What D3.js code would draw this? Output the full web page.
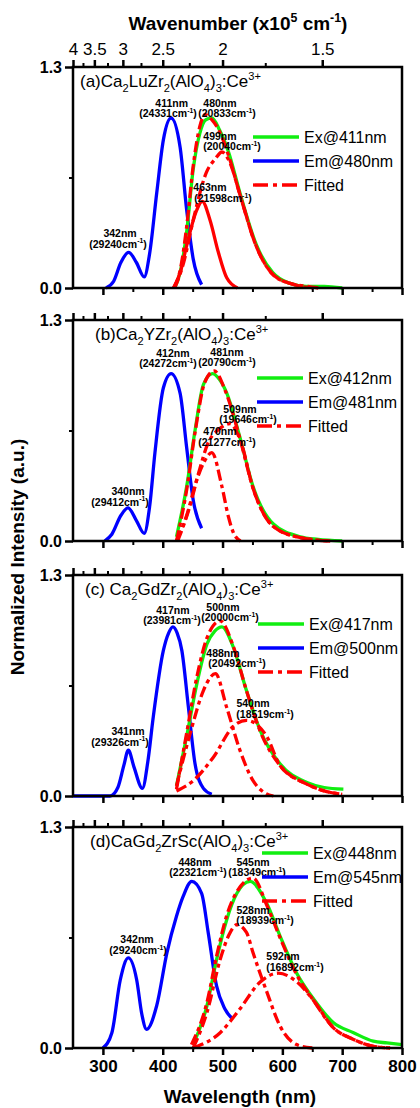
<!DOCTYPE html>
<html>
<head>
<meta charset="utf-8">
<script src="https://cdnjs.cloudflare.com/ajax/libs/d3/7.8.5/d3.min.js"></script>
<style>
  body { margin: 0; background: #fff; }
  text { font-family: "Liberation Sans", Arial, sans-serif; }
</style>
</head>
<body>
<svg width="420" height="1108"></svg>
<script>
// tick values
var wavelengthMajor = [300, 400, 500, 600, 700, 800];
var wavelengthMinor = [350, 450, 550, 650, 750];
var wavenumberMajor = [4, 3.5, 3, 2.5, 2, 1.5];
var wavenumberMinor = [3.75, 3.25, 2.75, 2.25, 1.75];
var intensityMajor = [0, 1.3];
var intensityMinor = [0.65];

// (a) Ca2LuZr2(AlO4)3:Ce3+   [nm, intensity]
var excA = [[305,0],[318,0.04],[330,0.15],[343,0.21],[356,0.15],[369,0.065],[378,0.2],[390,0.56],[401,0.87],[414,1.0],[429,0.83],[440,0.46],[451,0.17],[465,0.02]];
var emiA = [[420,0],[429,0.09],[440,0.33],[451,0.70],[462,0.91],[472,0.99],[482,1.0],[495,0.93],[510,0.80],[529,0.56],[557,0.25],[584,0.09],[610,0.03],[640,0.01],[670,0.01],[700,0]];
var fitA = [[418,0],[430,0.12],[440,0.36],[451,0.72],[462,0.95],[471,1.02],[482,0.99],[495,0.92],[510,0.78],[529,0.55],[557,0.24],[584,0.08],[610,0.03],[640,0.01],[660,0]];
var fitA1 = [[418,0],[430,0.10],[440,0.25],[457,0.46],[466,0.51],[479,0.40],[493,0.21],[507,0.06],[525,0]];
var fitA2 = [[420,0],[435,0.15],[451,0.40],[473,0.68],[488,0.76],[499,0.80],[512,0.74],[529,0.55],[557,0.24],[584,0.08],[620,0.02],[650,0]];

// (b) Ca2YZr2(AlO4)3:Ce3+
var excB = [[303,0],[315,0.04],[330,0.15],[342,0.195],[356,0.12],[369,0.045],[378,0.2],[387,0.52],[401,0.90],[414,0.985],[429,0.87],[440,0.55],[451,0.24],[465,0.075]];
var emiB = [[423,0.025],[440,0.32],[454,0.65],[468,0.92],[483,0.985],[495,0.95],[507,0.87],[529,0.61],[551,0.32],[585,0.10],[630,0.025],[660,0.01],[700,0]];
var fitB = [[423,0],[440,0.30],[455,0.66],[470,0.93],[486,1.0],[505,0.88],[530,0.59],[551,0.31],[585,0.085],[630,0.02],[680,0]];
var fitB1 = [[423,0],[440,0.15],[457,0.36],[470,0.47],[482,0.52],[499,0.32],[510,0.14],[518,0.05],[530,0]];
var fitB2 = [[425,0],[445,0.20],[460,0.40],[475,0.57],[495,0.66],[512,0.69],[530,0.59],[551,0.31],[585,0.085],[630,0.02],[680,0]];

// (c) Ca2GdZr2(AlO4)3:Ce3+
var excC = [[250,0],[312,0],[325,0.05],[335,0.18],[342.5,0.27],[352,0.17],[366,0.045],[375,0.2],[384,0.46],[401,0.855],[410,0.96],[417,0.995],[424,0.96],[432,0.855],[443,0.52],[454,0.19],[468,0.045],[482,0.01]];
var emiC = [[423,0.06],[440,0.35],[457,0.66],[474,0.895],[487,0.97],[499,0.995],[518,0.875],[540,0.62],[563,0.385],[596,0.19],[641,0.08],[670,0.05],[702,0.04]];
var fitC = [[423,0.04],[440,0.37],[457,0.70],[474,0.93],[496,1.03],[518,0.88],[540,0.62],[563,0.38],[596,0.18],[641,0.07],[670,0.03],[700,0.01]];
var fitC1 = [[423,0.06],[446,0.37],[468,0.62],[480,0.70],[488,0.72],[507,0.52],[529,0.27],[551,0.09],[570,0.02],[585,0]];
var fitC2 = [[423,0.03],[451,0.09],[485,0.23],[518,0.41],[540,0.445],[574,0.35],[596,0.18],[641,0.07],[670,0.03],[700,0.01]];

// (d) CaGd2ZrSc(AlO4)3:Ce3+
var excD = [[300,0],[315,0.09],[329,0.40],[342.5,0.53],[356.5,0.40],[365,0.2],[373,0.11],[390,0.25],[407,0.56],[423,0.775],[434,0.89],[448.5,0.98],[465,0.91],[476,0.68],[490,0.365],[504,0.23],[517,0.17]];
var emiD = [[451,0.02],[474,0.25],[490,0.52],[507,0.755],[524,0.91],[546,0.98],[574,0.85],[596,0.66],[624,0.44],[652,0.29],[685,0.15],[719,0.09],[752,0.04],[775,0.03],[800,0.02]];
var fitD = [[448,0.02],[474,0.27],[490,0.54],[507,0.78],[524,0.92],[551,1.0],[574,0.84],[596,0.65],[624,0.43],[652,0.28],[685,0.12],[719,0.05],[752,0.01],[780,0]];
var fitD1 = [[451,0],[474,0.21],[496,0.52],[510,0.66],[524,0.725],[540,0.68],[551,0.56],[574,0.33],[596,0.13],[624,0.02],[650,0]];
var fitD2 = [[451,0],[496,0.09],[529,0.23],[562,0.385],[593,0.44],[624,0.39],[652,0.28],[685,0.12],[719,0.05],[752,0.01],[780,0]];

// peak notes: [line1, line2, nm of line1, nm of line2, intensity of line1]
var notesA = [["342nm","(29240cm^{-1})",328.6,325.2,0.30],["411nm","(24331cm^{-1})",415,408.8,1.066],["480nm","(20833cm^{-1})",495.7,507.4,1.066],["499nm","(20040cm^{-1})",495.7,515.8,0.872],["463nm","(21598cm^{-1})",479,500.7,0.568]];
var notesB = [["340nm","(29412cm^{-1})",342,328.6,0.269],["412nm","(24272cm^{-1})",417,408.8,1.083],["481nm","(20790cm^{-1})",507.4,507.4,1.089],["509nm","(19646cm^{-1})",529.2,542.5,0.755],["470nm","(21277cm^{-1})",495.7,507.4,0.621]];
var notesC = [["341nm","(29326cm^{-1})",342,328.6,0.357],["417nm","(23981cm^{-1})",417,415.5,1.071],["500nm","(20000cm^{-1})",500.7,512.4,1.089],["488nm","(20492cm^{-1})",500.7,524.2,0.82],["540nm","(18519cm^{-1})",551,571,0.521]];
var notesD = [["342nm","(29240cm^{-1})",357,358.7,0.615],["448nm","(22321cm^{-1})",454,459,1.071],["545nm","(18349cm^{-1})",551,557.6,1.071],["528nm","(18939cm^{-1})",551,571,0.79],["592nm","(16892cm^{-1})",601,621,0.515]];

var titles = ["(a)Ca_{2}LuZr_{2}(AlO_{4})_{3}:Ce^{3+}", "(b)Ca_{2}YZr_{2}(AlO_{4})_{3}:Ce^{3+}",
              "(c) Ca_{2}GdZr_{2}(AlO_{4})_{3}:Ce^{3+}", "(d)CaGd_{2}ZrSc(AlO_{4})_{3}:Ce^{3+}"];
var exLabels = ["Ex@411nm", "Ex@412nm", "Ex@417nm", "Ex@448nm"];
var emLabels = ["Em@480nm", "Em@481nm", "Em@500nm", "Em@545nm"];

var panels = [
  {exc: excA, emi: emiA, fit: fitA, parts: [fitA1, fitA2], solidPart: 0, notes: notesA, titleX: 80, leg: {x: 253, dy: 70}},
  {exc: excB, emi: emiB, fit: fitB, parts: [fitB1, fitB2], solidPart: -1, notes: notesB, titleX: 95, leg: {x: 257, dy: 58}},
  {exc: excC, emi: emiC, fit: fitC, parts: [fitC1, fitC2], solidPart: -1, notes: notesC, titleX: 85, leg: {x: 258, dy: 49}},
  {exc: excD, emi: emiD, fit: fitD, parts: [fitD1, fitD2], solidPart: -1, notes: notesD, titleX: 90, leg: {x: 262, dy: 26}}
];

var svg = d3.select("svg");
var panelTop = [67, 320, 575, 827], panelH = 221;
var x = d3.scaleLinear().domain([250, 800]).range([73, 402]);
var blue = "#0000ff", green = "#11ee11", red = "#ff0000";
var dashDot = "11,4,4,4";

// text with _{sub} and ^{sup}
function rich(sel, str, size) {
  var bits = str.split(/([_^]\{[^}]*\})/), shift = 0;
  bits.forEach(function(s) {
    if (!s) return;
    var target = 0, fs = size;
    if (s[0] == "_") { target = size * 0.3; fs = size * 0.65; s = s.slice(2, -1); }
    else if (s[0] == "^") { target = -size * 0.42; fs = size * 0.65; s = s.slice(2, -1); }
    sel.append("tspan").attr("dy", target - shift).style("font-size", fs + "px").text(s);
    shift = target;
  });
}

function styleAxis(a, w) {
  a.select(".domain").remove();
  a.selectAll(".tick line").attr("stroke", "#000").attr("stroke-width", w);
}

panels.forEach(function(p, i) {
  var top = panelTop[i], bottom = top + panelH;
  var y = d3.scaleLinear().domain([0, 1.3]).range([bottom, top]);
  var line = d3.line().x(function(d) { return x(d[0]); }).y(function(d) { return y(d[1]); }).curve(d3.curveMonotoneX);
  var g = svg.append("g");

  // curves
  g.append("path").attr("d", line(p.exc)).attr("fill", "none").attr("stroke", blue).attr("stroke-width", 3.3);
  g.append("path").attr("d", line(p.emi)).attr("fill", "none").attr("stroke", green).attr("stroke-width", 3.3);
  g.append("path").attr("d", line(p.fit)).attr("fill", "none").attr("stroke", red).attr("stroke-width", 3.3).attr("stroke-dasharray", dashDot);
  p.parts.forEach(function(c, k) {
    g.append("path").attr("d", line(c)).attr("fill", "none").attr("stroke", red).attr("stroke-width", 3.3)
      .attr("stroke-dasharray", k == p.solidPart ? null : dashDot);
  });

  // frame
  g.append("rect").attr("x", x(250)).attr("y", top).attr("width", x(800) - x(250)).attr("height", panelH)
    .attr("fill", "none").attr("stroke", "#000").attr("stroke-width", 2.5);

  // bottom ticks
  var bMaj = g.append("g").attr("transform", "translate(0," + bottom + ")")
    .call(d3.axisBottom(x).tickValues(wavelengthMajor).tickSize(7).tickPadding(5).tickFormat(i == 3 ? d3.format("d") : ""));
  styleAxis(bMaj, 2.5);
  bMaj.selectAll("text").style("font-size", "17px").style("font-weight", "bold").attr("fill", "#000");
  var bMin = g.append("g").attr("transform", "translate(0," + bottom + ")")
    .call(d3.axisBottom(x).tickValues(wavelengthMinor).tickSize(4).tickFormat(""));
  styleAxis(bMin, 2);

  // top ticks (wavenumber, x10^4 cm-1 -> nm = 1000 / w)
  var tMaj = g.append("g").attr("transform", "translate(0," + top + ")")
    .call(d3.axisTop(x).tickValues(wavenumberMajor.map(function(w) { return 1000 / w; })).tickSize(7).tickPadding(5)
      .tickFormat(i == 0 ? function(d) { return d3.format("~g")(+(1000 / d).toFixed(2)); } : ""));
  styleAxis(tMaj, 2.5);
  tMaj.selectAll("text").style("font-size", "17px").attr("fill", "#000");
  var tMin = g.append("g").attr("transform", "translate(0," + top + ")")
    .call(d3.axisTop(x).tickValues(wavenumberMinor.map(function(w) { return 1000 / w; })).tickSize(4).tickFormat(""));
  styleAxis(tMin, 2);

  // left ticks
  var lMaj = g.append("g").attr("transform", "translate(" + x(250) + ",0)")
    .call(d3.axisLeft(y).tickValues(intensityMajor).tickSize(8).tickPadding(3).tickFormat(d3.format(".1f")));
  styleAxis(lMaj, 2.5);
  lMaj.selectAll("text").style("font-size", "16px").style("font-weight", "bold").attr("fill", "#000");
  var lMin = g.append("g").attr("transform", "translate(" + x(250) + ",0)")
    .call(d3.axisLeft(y).tickValues(intensityMinor).tickSize(4).tickFormat(""));
  styleAxis(lMin, 2);

  // title
  rich(g.append("text").attr("x", p.titleX).attr("y", top + 20).attr("fill", "#000"), titles[i], 17);

  // peak notes
  p.notes.forEach(function(n) {
    g.append("text").attr("x", x(n[2])).attr("y", y(n[4])).attr("text-anchor", "middle")
      .style("font-size", "10.5px").style("font-weight", "bold").text(n[0]);
    rich(g.append("text").attr("x", x(n[3])).attr("y", y(n[4]) + 10.5).attr("text-anchor", "middle")
      .style("font-weight", "bold"), n[1], 10.5);
  });

  // legend
  var items = [[exLabels[i], green, null], [emLabels[i], blue, null], ["Fitted", red, "15,5,4,5"]];
  items.forEach(function(it, k) {
    var ly = top + p.leg.dy + k * 24;
    g.append("line").attr("x1", p.leg.x).attr("x2", p.leg.x + 46).attr("y1", ly).attr("y2", ly)
      .attr("stroke", it[1]).attr("stroke-width", 3.3).attr("stroke-dasharray", it[2]);
    g.append("text").attr("x", p.leg.x + 51).attr("y", ly + 6).style("font-size", "16px").text(it[0]);
  });
});

// axis titles
rich(svg.append("text").attr("x", 238).attr("y", 30).attr("text-anchor", "middle")
  .style("font-weight", "bold"), "Wavenumber (x10^{5} cm^{-1})", 19);
svg.append("text").attr("x", 240).attr("y", 1103).attr("text-anchor", "middle")
  .style("font-size", "19px").style("font-weight", "bold").text("Wavelength (nm)");
svg.append("text").attr("transform", "translate(24,557) rotate(-90)").attr("text-anchor", "middle")
  .style("font-size", "19px").style("font-weight", "bold").text("Normalized Intensity (a.u.)");
</script>
</body>
</html>
